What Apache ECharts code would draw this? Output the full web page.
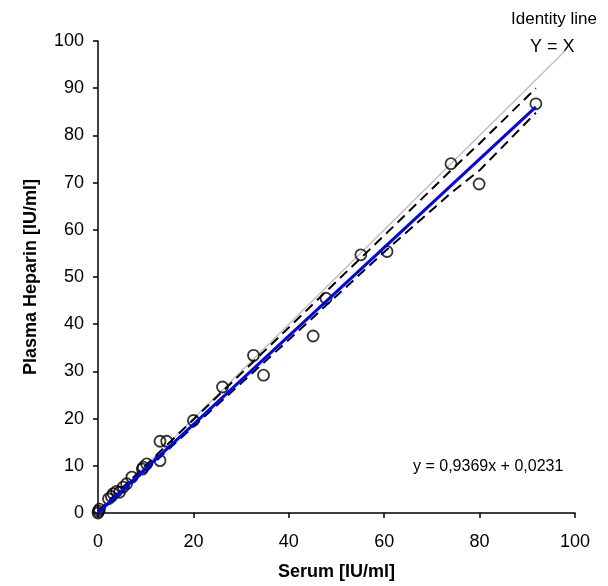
<!DOCTYPE html>
<html><head><meta charset="utf-8">
<script src="https://cdn.jsdelivr.net/npm/echarts@6/dist/echarts.min.js"></script>
<style>html,body{margin:0;padding:0;background:#fff}#c{width:608px;height:586px}</style>
</head><body><div id="c"></div>
<script>
// Data (serum, plasma)
const serum = [0, 0.3, 0.1, 2.2, 2.8, 3.2, 3.9, 4.5, 5.3, 6.0, 7.1, 9.3, 9.5, 10.2, 13.0, 14.4, 13.0, 20.0, 26.1, 32.6, 34.7, 45.1, 47.8, 55.1, 60.6, 74.0, 79.9, 91.8];
const plasma = [0, 0.8, 0.4, 3.0, 3.5, 4.1, 4.6, 4.4, 5.5, 6.2, 7.6, 9.3, 9.7, 10.4, 15.2, 15.2, 11.1, 19.6, 26.7, 33.4, 29.2, 37.5, 45.5, 54.7, 55.4, 74.0, 69.7, 86.7];
const fitX = [0, 91.8];
const fitY = [0.0231, 86.03];
const upperX = [0, 20, 40, 60, 74, 80, 91.8];
const upperY = [0.4, 19.8, 39.3, 58.8, 72.6, 78.3, 90.0];
const lowerX = [0, 20, 40, 60, 74, 80, 91.8];
const lowerY = [-0.2, 18.3, 36.7, 55.3, 67.8, 72.6, 84.8];
const identityX = [0, 98];
const identityY = [0, 98];
const xTicks = [0, 20, 40, 60, 80, 100];
const yTicks = [0, 10, 20, 30, 40, 50, 60, 70, 80, 90, 100];

const zip = (a, b) => a.map((v, i) => [v, b[i]]);
const font = 'Liberation Sans, Arial, sans-serif';
const chart = echarts.init(document.getElementById('c'), null, {renderer: 'canvas'});
chart.setOption({
  animation: false,
  grid: {left: 98, right: 33, top: 41, bottom: 70},
  xAxis: {
    type: 'value', min: 0, max: 100, interval: 20,
    name: 'Serum [IU/ml]', nameLocation: 'middle', nameGap: 50,
    nameTextStyle: {fontFamily: font, fontSize: 18, fontWeight: 'bold', color: '#000'},
    axisLine: {lineStyle: {color: '#000', width: 1.5}},
    axisTick: {show: true, length: 5, lineStyle: {color: '#000', width: 1.5}},
    axisLabel: {fontFamily: font, fontSize: 18, color: '#000', margin: 20,
      formatter: v => xTicks.includes(v) ? String(v) : ''},
    splitLine: {show: false}
  },
  yAxis: {
    type: 'value', min: 0, max: 100, interval: 10,
    name: 'Plasma Heparin [IU/ml]', nameLocation: 'middle', nameGap: 58, nameRotate: 90,
    nameTextStyle: {fontFamily: font, fontSize: 18, fontWeight: 'bold', color: '#000'},
    axisLine: {lineStyle: {color: '#000', width: 1.5}},
    axisTick: {show: true, length: 5, lineStyle: {color: '#000', width: 1.5}},
    axisLabel: {fontFamily: font, fontSize: 18, color: '#000', margin: 14,
      formatter: v => yTicks.includes(v) ? String(v) : ''},
    splitLine: {show: false}
  },
  series: [
    {type: 'line', data: zip(identityX, identityY), symbol: 'none', lineStyle: {color: '#c0c0c0', width: 1.5}, z: 2},
    {type: 'scatter', data: zip(serum, plasma), symbol: 'circle', symbolSize: 11,
      itemStyle: {color: 'rgba(255,255,255,0)', borderColor: '#000', borderWidth: 1.8}, z: 3},
    {type: 'line', data: zip(upperX, upperY), symbol: 'none', lineStyle: {color: '#000', width: 2, type: [10, 6]}, z: 4},
    {type: 'line', data: zip(lowerX, lowerY), symbol: 'none', lineStyle: {color: '#000', width: 2, type: [10, 6]}, z: 4},
    {type: 'line', data: zip(fitX, fitY), symbol: 'none', lineStyle: {color: '#0000ff', width: 3}, z: 5}
  ],
  graphic: [
    {type: 'text', left: 511, top: 11, style: {text: 'Identity line', font: '17px ' + font, fill: '#000'}},
    {type: 'text', left: 530, top: 38, style: {text: 'Y = X', font: '18px ' + font, fill: '#000'}},
    {type: 'text', left: 413, top: 459, style: {text: 'y = 0,9369x + 0,0231', font: '16px ' + font, fill: '#000'}}
  ]
});
</script></body></html>
